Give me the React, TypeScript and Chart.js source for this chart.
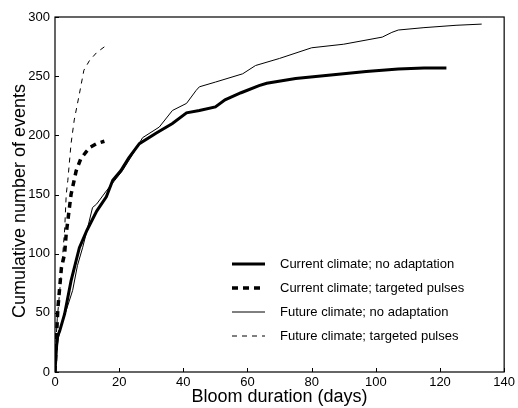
import React, { useEffect, useRef } from "react";
import { Chart, registerables } from "chart.js";

Chart.register(...registerables);

// Current climate; no adaptation (thick solid)
const currentNoAdaptDays = [0, 0.5, 0.8, 1.5, 3, 5, 7.6, 10, 13, 16, 18, 20.5, 23, 26.3, 31.6, 36.6, 41, 45, 50, 53, 58, 63.6, 66, 75, 86, 97, 107, 115, 122];
const currentNoAdaptEvents = [0, 22, 30, 35, 49, 77, 105, 120, 136, 148, 162, 170, 181, 193, 202, 210, 219, 221, 224, 230, 236, 242, 244, 248, 251, 254, 256, 257, 257];

// Current climate; targeted pulses (thick dashed)
const currentPulseDays = [0, 0.3, 0.5, 0.9, 2, 3, 3.5, 4.5, 5, 6.6, 8, 9.7, 11, 13, 15.4];
const currentPulseEvents = [0, 20, 32, 54, 88, 100, 117, 139, 150, 170, 180, 186, 190, 193, 195];

// Future climate; no adaptation (thin solid)
const futureNoAdaptDays = [0, 0.5, 1, 2, 3.5, 5.5, 7, 8.6, 10, 11.7, 13, 16, 21, 24, 27.3, 32.5, 36.6, 41, 44, 45, 50, 58.5, 62.5, 70, 80, 90, 102, 105, 107, 115, 125, 133];
const futureNoAdaptEvents = [0, 18, 28, 40, 52, 69, 90, 105, 120, 139, 142, 153, 170, 183, 198, 207, 221, 227, 238, 241, 245, 252, 259, 265, 274, 277, 283, 287, 289, 291, 293, 294];

// Future climate; targeted pulses (thin dashed)
const futurePulseDays = [0, 0.3, 0.7, 1.2, 2, 3, 3.5, 4, 5, 6, 7.6, 9, 10.7, 13, 16];
const futurePulseEvents = [0, 25, 45, 60, 85, 120, 150, 162, 193, 213, 235, 255, 263, 270, 276];

const seriesLabels = [
  "Current climate; no adaptation",
  "Current climate; targeted pulses",
  "Future climate; no adaptation",
  "Future climate; targeted pulses",
];

const xTitle = "Bloom duration (days)";
const yTitle = "Cumulative number of events";

const FONT = "'Liberation Sans', Arial, Helvetica, sans-serif";

const styles = [
  { width: 3, dash: [] as number[] },
  { width: 3.5, dash: [6, 5] },
  { width: 1, dash: [] as number[] },
  { width: 1, dash: [5, 5] },
];

function pts(xs: number[], ys: number[]) {
  return xs.map((x, i) => ({ x, y: ys[i] }));
}

const framePlugin = {
  id: "frame",
  afterDatasetsDraw(chart: any) {
    const { ctx, chartArea } = chart;
    const xs = chart.scales.x;
    const ys = chart.scales.y;
    ctx.save();
    ctx.strokeStyle = "#000";
    ctx.lineWidth = 1.2;
    ctx.setLineDash([]);
    ctx.strokeRect(chartArea.left, chartArea.top, chartArea.right - chartArea.left, chartArea.bottom - chartArea.top);
    ctx.lineWidth = 1;
    ctx.beginPath();
    xs.ticks.forEach((t: any) => {
      const px = Math.round(xs.getPixelForValue(t.value)) + 0.5;
      ctx.moveTo(px, chartArea.bottom);
      ctx.lineTo(px, chartArea.bottom - 4);
    });
    ys.ticks.forEach((t: any) => {
      const py = Math.round(ys.getPixelForValue(t.value)) + 0.5;
      ctx.moveTo(chartArea.left, py);
      ctx.lineTo(chartArea.left + 4, py);
    });
    ctx.stroke();

    // y-axis title
    ctx.save();
    ctx.translate(20, 201);
    ctx.rotate(-Math.PI / 2);
    ctx.font = `18px ${FONT}`;
    ctx.textAlign = "center";
    ctx.textBaseline = "middle";
    ctx.fillStyle = "#000";
    ctx.fillText(yTitle, 0, 0);
    ctx.restore();

    // legend
    const x0 = 232, x1 = 265, tx = 280;
    const rows = [264, 288, 312, 336];
    ctx.font = `13px ${FONT}`;
    ctx.fillStyle = "#000";
    ctx.textBaseline = "middle";
    seriesLabels.forEach((lab, i) => {
      const y = rows[i];
      ctx.lineWidth = styles[i].width;
      ctx.setLineDash(styles[i].dash);
      ctx.beginPath();
      ctx.moveTo(x0, y);
      ctx.lineTo(x1, y);
      ctx.stroke();
      ctx.setLineDash([]);
      ctx.fillText(lab, tx, y);
    });
    ctx.restore();
  },
};

export default function App() {
  const ref = useRef<HTMLCanvasElement>(null);
  useEffect(() => {
    document.body.style.margin = "0";
    const data = [
      pts(currentNoAdaptDays, currentNoAdaptEvents),
      pts(currentPulseDays, currentPulseEvents),
      pts(futureNoAdaptDays, futureNoAdaptEvents),
      pts(futurePulseDays, futurePulseEvents),
    ];
    const chart = new Chart(ref.current!, {
      type: "line",
      data: {
        datasets: data.map((d, i) => ({
          label: seriesLabels[i],
          data: d,
          borderColor: "#000",
          borderWidth: styles[i].width,
          borderDash: styles[i].dash,
          pointRadius: 0,
          tension: 0,
          fill: false,
        })),
      },
      options: {
        animation: false,
        responsive: true,
        maintainAspectRatio: false,
        layout: { padding: { top: 17, right: 12, left: 0, bottom: 0 } },
        plugins: { legend: { display: false }, tooltip: { enabled: false } },
        scales: {
          x: {
            type: "linear",
            min: 0,
            max: 140,
            grid: { display: false, drawTicks: false },
            border: { display: false },
            ticks: { stepSize: 20, color: "#000", font: { family: FONT, size: 13 }, padding: 3, maxRotation: 0 },
            title: { display: true, text: xTitle, color: "#000", font: { family: FONT, size: 18 }, padding: { top: 0, bottom: 0 } },
            afterFit: (s: any) => { s.height = 36; },
          },
          y: {
            type: "linear",
            min: 0,
            max: 300,
            grid: { display: false, drawTicks: false },
            border: { display: false },
            ticks: { stepSize: 50, color: "#000", font: { family: FONT, size: 13 }, padding: 5 },
            title: { display: false, text: yTitle },
            afterFit: (s: any) => { s.width = 55; },
          },
        },
      },
      plugins: [framePlugin],
    });
    return () => chart.destroy();
  }, []);
  return (
    <div style={{ position: "absolute", left: 0, top: 0, width: 518, height: 408 }}>
      <canvas ref={ref} />
    </div>
  );
}
